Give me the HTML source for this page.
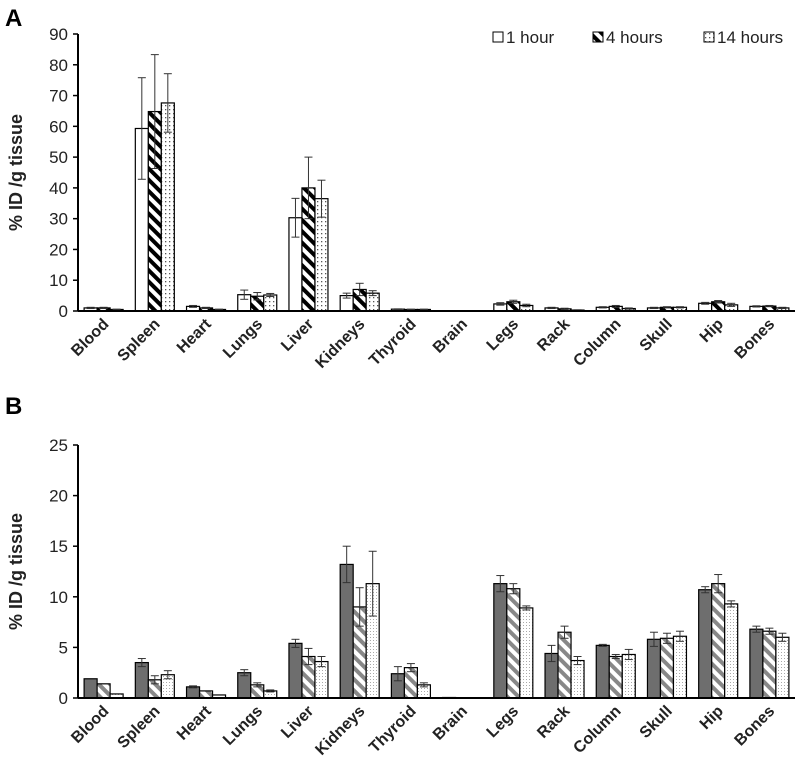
<!DOCTYPE html>
<html><head><meta charset="utf-8"><style>
body{margin:0;background:#fff;}
svg{display:block;font-family:"Liberation Sans",Arial,sans-serif;}
</style></head><body>
<svg id="chart" width="797" height="778" viewBox="0 0 797 778" xmlns="http://www.w3.org/2000/svg">
<defs>
<pattern id="pA2" patternUnits="userSpaceOnUse" width="8" height="8" patternTransform="rotate(-45)"><rect width="8" height="8" fill="#fff"/><rect width="4" height="8" fill="#000"/></pattern>
<pattern id="pA3" patternUnits="userSpaceOnUse" width="4" height="4"><rect width="4" height="4" fill="#fff"/><rect x="1" y="1" width="1.3" height="1.3" fill="#555"/></pattern>
<pattern id="pB2" patternUnits="userSpaceOnUse" width="8" height="8" patternTransform="rotate(-45)"><rect width="8" height="8" fill="#fff"/><rect width="4" height="8" fill="#888"/></pattern>
<pattern id="pB3" patternUnits="userSpaceOnUse" width="3" height="3"><rect width="3" height="3" fill="#fff"/><rect x="1" y="1" width="1" height="1" fill="#aaa"/></pattern>
</defs>
<g id="root"></g>
</svg>
<script>
const categories=["Blood","Spleen","Heart","Lungs","Liver","Kidneys","Thyroid","Brain","Legs","Rack","Column","Skull","Hip","Bones"];
const seriesNames=["1 hour","4 hours","14 hours"];
const a1h=[1,59.3,1.5,5.3,30.3,5,0.6,0,2.3,1,1.2,1,2.5,1.5];
const a4h=[1,64.8,1,4.8,40,7,0.5,0,3,0.7,1.5,1.2,3,1.6];
const a14h=[0.5,67.6,0.5,5.2,36.5,5.8,0.5,0,1.8,0.3,0.8,1.2,2,1];
const a1hErr=[0.2,16.5,0.3,1.5,6.3,0.8,0.1,0,0.4,0.2,0.2,0.2,0.3,0.2];
const a4hErr=[0.2,18.5,0.2,1.2,10,2,0.1,0,0.5,0.2,0.3,0.2,0.4,0.2];
const a14hErr=[0.1,9.5,0.1,0.5,6,0.8,0.1,0,0.4,0.1,0.2,0.2,0.5,0.2];
const b1h=[1.9,3.5,1.1,2.5,5.4,13.2,2.4,0.05,11.3,4.4,5.2,5.8,10.7,6.8];
const b4h=[1.4,1.8,0.7,1.3,4.1,9,3.0,0,10.8,6.5,4.1,5.9,11.3,6.6];
const b14h=[0.4,2.3,0.3,0.7,3.6,11.3,1.3,0,8.9,3.7,4.3,6.1,9.3,6.0];
const b1hErr=[0,0.4,0.1,0.3,0.4,1.8,0.7,0,0.8,0.8,0.1,0.7,0.3,0.3];
const b4hErr=[0,0.4,0,0.2,0.8,1.9,0.4,0,0.5,0.6,0.2,0.5,0.9,0.3];
const b14hErr=[0,0.4,0,0.1,0.5,3.2,0.2,0,0.2,0.4,0.5,0.5,0.3,0.4];
const aTicks=[0,10,20,30,40,50,60,70,80,90];
const bTicks=[0,5,10,15,20,25];

const NS="http://www.w3.org/2000/svg";
const root=document.getElementById('root');
function mk(tag,attrs,parent){const e=document.createElementNS(NS,tag);for(const k in attrs)e.setAttribute(k,attrs[k]);(parent||root).appendChild(e);return e;}

function panel(p){
  const g=mk('g',{});
  
  
  const x0=78,x1=795,band=(x1-x0)/categories.length;
  const y=v=>p.y0-(v/p.max)*(p.y0-p.yTop);
  const bw=13;
  const ax=mk('line',{x1:x0,x2:x0,y1:p.yTop,y2:p.y0,stroke:'#000','stroke-width':2},g);
  
  
  p.ticks.forEach(t=>{
    mk('line',{x1:x0-5,x2:x0,y1:y(t),y2:y(t),stroke:'#000','stroke-width':1.5},g);
    const tx=mk('text',{x:x0-10,y:y(t)+6,'text-anchor':'end','font-size':17,fill:'#222'},g);
    tx.textContent=t;
    
    
  });
  const yt=mk('text',{x:0,y:0,'text-anchor':'middle','font-size':18,'font-weight':'bold',fill:'#222',transform:`translate(22,${(p.y0+p.yTop)/2}) rotate(-90)`},g);
  yt.textContent='% ID /g tissue';
  
  
  categories.forEach((c,i)=>{
    const cx=x0+band*(i+0.5);
    p.series.forEach((s,j)=>{
      const bx=cx-1.5*bw+j*bw;
      const v=s.vals[i],e=s.err[i];
      const r=mk('rect',{x:bx,y:y(v),width:bw,height:Math.max(0,p.y0-y(v)),fill:p.fills[j],stroke:'#000','stroke-width':1.2},g);
      
      
      if(e>0){
        const m=bx+bw/2;
        mk('line',{x1:m,x2:m,y1:y(v+e),y2:y(Math.max(0,v-e)),stroke:'#333','stroke-width':1},g);
        mk('line',{x1:m-4,x2:m+4,y1:y(v+e),y2:y(v+e),stroke:'#333','stroke-width':1},g);
        mk('line',{x1:m-4,x2:m+4,y1:y(Math.max(0,v-e)),y2:y(Math.max(0,v-e)),stroke:'#333','stroke-width':1},g);
      }
    });
    const lab=mk('text',{x:0,y:0,'text-anchor':'end','font-size':16,'font-weight':'bold',fill:'#222',transform:`translate(${cx+6},${p.y0+14}) rotate(-45)`},g);
    lab.textContent=c;
    
    
  });
  const xa=mk('line',{x1:x0,x2:x1,y1:p.y0,y2:p.y0,stroke:'#000','stroke-width':2},g);
  
  
  const pl=mk('text',{x:5,y:p.labelY,'font-size':24,'font-weight':'bold',fill:'#000'},g);
  pl.textContent=p.label;
  
  
}
panel({name:'panel-a',label:'A',labelY:26,y0:311,yTop:34,max:90,ticks:aTicks,fills:['#fff','url(#pA2)','url(#pA3)'],
  series:[{vals:a1h,err:a1hErr},{vals:a4h,err:a4hErr},{vals:a14h,err:a14hErr}]});
panel({name:'panel-b',label:'B',labelY:414,y0:698,yTop:445,max:25,ticks:bTicks,fills:['#6e6e6e','url(#pB2)','url(#pB3)'],
  series:[{vals:b1h,err:b1hErr},{vals:b4h,err:b4hErr},{vals:b14h,err:b14hErr}]});

const lg=mk('g',{});


const lx=[493,593,704],lf=['#fff','url(#pA2)','url(#pA3)'];
seriesNames.forEach((n,i)=>{
  const e=mk('g',{},lg);
  
  
  mk('rect',{x:lx[i],y:32,width:10,height:10,fill:lf[i],stroke:'#000','stroke-width':1},e);
  const t=mk('text',{x:lx[i]+13,y:43,'font-size':17,fill:'#222'},e);
  t.textContent=n;
});
</script>
</body></html>
